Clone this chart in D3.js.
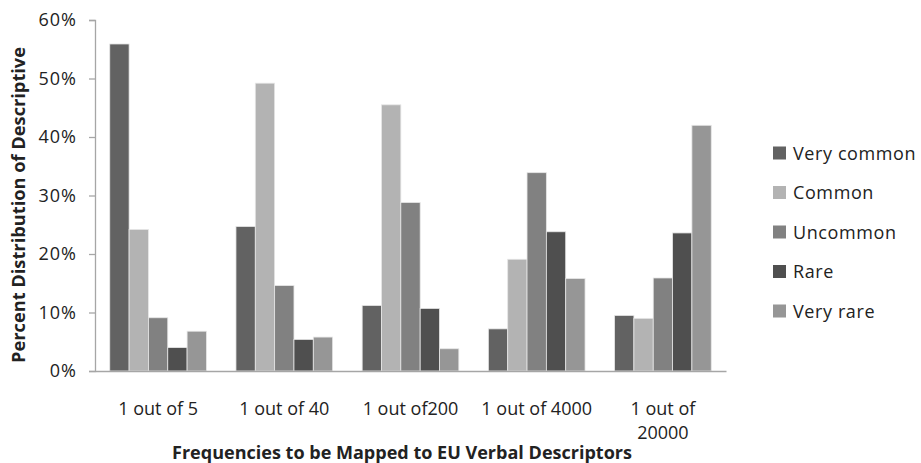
<!DOCTYPE html>
<html>
<head>
<meta charset="utf-8">
<script src="https://cdn.jsdelivr.net/npm/d3@7"></script>
<style>
  html, body { margin: 0; padding: 0; background: #fff; }
  svg { display: block; }
  text { font-family: "Open Sans", Lato, sans-serif; fill: #222; }
</style>
</head>
<body>
<svg id="chart" width="921" height="463"></svg>
<script>
const categories = ["1 out of 5", "1 out of 40", "1 out of200", "1 out of 4000", "1 out of 20000"];
const seriesNames = ["Very common", "Common", "Uncommon", "Rare", "Very rare"];
const veryCommon = [0.559, 0.247, 0.112, 0.072, 0.095];
const common     = [0.242, 0.492, 0.455, 0.191, 0.090];
const uncommon   = [0.091, 0.146, 0.288, 0.339, 0.159];
const rare       = [0.040, 0.054, 0.107, 0.238, 0.236];
const veryRare   = [0.068, 0.058, 0.038, 0.158, 0.420];
const yTicks = [0, 0.1, 0.2, 0.3, 0.4, 0.5, 0.6];
const colors = ["#626262", "#b3b3b3", "#818181", "#4f4f4f", "#969696"];
const xTitle = "Frequencies to be Mapped to EU Verbal Descriptors";
const yTitle = "Percent Distribution of Descriptive";

const seriesValues = [veryCommon, common, uncommon, rare, veryRare];
const svg = d3.select("#chart");
const plotLeft = 95, plotRight = 726, plotTop = 20, plotBottom = 371;
const font = "'Open Sans', Lato, sans-serif";

const x0 = d3.scaleBand().domain(categories).range([plotLeft, plotRight])
  .paddingInner(0.234).paddingOuter(0.117);
const x1 = d3.scaleBand().domain(seriesNames).range([0, x0.bandwidth()]);
const y = d3.scaleLinear().domain([0, 0.6]).range([plotBottom, plotTop]);

// bars
const groups = svg.append("g").selectAll("g")
  .data(categories).join("g")
  .attr("transform", d => `translate(${x0(d)},0)`);
groups.selectAll("rect")
  .data((c, i) => seriesNames.map((s, j) => ({ s, j, v: seriesValues[j][i] })))
  .join("rect")
  .attr("x", d => x1(d.s))
  .attr("y", d => y(d.v))
  .attr("width", x1.bandwidth())
  .attr("height", d => y(0) - y(d.v))
  .attr("fill", d => colors[d.j])
  .attr("stroke", "#e6e6e6")
  .attr("stroke-width", 0.8);

// y axis
const yAxis = d3.axisLeft(y).tickValues(yTicks).tickFormat(d3.format(".0%"))
  .tickSizeInner(6).tickSizeOuter(6).tickPadding(12);
const gy = svg.append("g").attr("transform", `translate(${plotLeft},0)`).call(yAxis);
gy.select(".domain").attr("stroke", "#a6a6a6").attr("stroke-width", 1.3);
gy.selectAll(".tick line").attr("stroke", "#a6a6a6").attr("stroke-width", 1.3);
gy.selectAll(".tick text").attr("font-size", 18).attr("fill", "#222")
  .attr("letter-spacing", 1)
  .style("font-family", font);

// x axis
const xAxis = d3.axisBottom(x0).tickSize(0).tickPadding(0);
const gx = svg.append("g").attr("transform", `translate(0,${plotBottom})`).call(xAxis);
gx.select(".domain").attr("stroke", "#a6a6a6").attr("stroke-width", 1.3);
gx.selectAll(".tick text").remove();
gx.selectAll(".tick").each(function(d) {
  const lines = d === "1 out of 20000" ? ["1 out of", "20000"] : [d];
  const t = d3.select(this).append("text")
    .attr("text-anchor", "middle")
    .attr("font-size", 18)
    .attr("fill", "#222")
    .style("font-family", font);
  lines.forEach((l, i) => {
    t.append("tspan").attr("x", 0).attr("y", 44 + i * 24).text(l);
  });
});

// axis titles
svg.append("text")
  .attr("x", 402).attr("y", 459)
  .attr("text-anchor", "middle")
  .attr("font-size", 17).attr("font-weight", "bold")
  .attr("textLength", 460).attr("lengthAdjust", "spacingAndGlyphs")
  .text(xTitle);
svg.append("text")
  .attr("transform", `translate(25,205) rotate(-90)`)
  .attr("text-anchor", "middle")
  .attr("font-size", 17).attr("font-weight", "bold")
  .attr("textLength", 316).attr("lengthAdjust", "spacingAndGlyphs")
  .text(yTitle);

// legend
const legend = svg.append("g").selectAll("g")
  .data(seriesNames).join("g")
  .attr("transform", (d, i) => `translate(773,${153 + i * 39.5})`);
legend.append("rect")
  .attr("x", 0).attr("y", -6.5).attr("width", 13).attr("height", 13)
  .attr("fill", (d, i) => colors[i]);
legend.append("text")
  .attr("x", 20).attr("y", 6.5)
  .attr("font-size", 18)
  .attr("letter-spacing", 0.6)
  .text(d => d);
</script>
</body>
</html>
